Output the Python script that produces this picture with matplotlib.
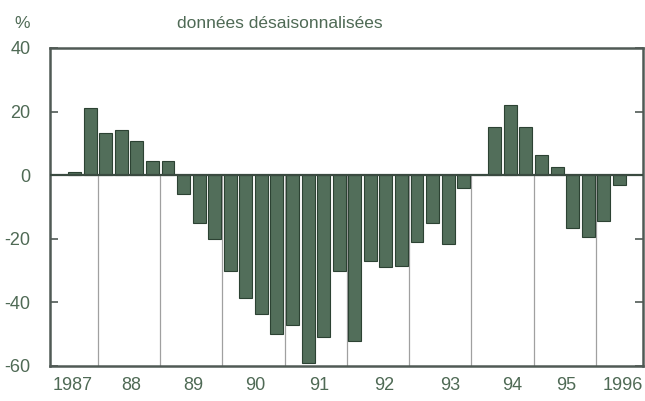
import matplotlib
matplotlib.use("Agg")
import matplotlib.pyplot as plt
import numpy as np

# Quarterly data, index 0 = 1987 Q1
quarters = np.arange(2, 38)
values = [1, 21,
          13.3, 14.3, 10.6, 4.5,
          4.5, -6, -15, -20,
          -30, -38.6, -43.8, -50,
          -47, -59, -51, -30,
          -52, -27, -29, -28.6,
          -21, -15, -21.5, -4,
          0, 15.3, 22, 15.3,
          6.3, 2.5, -16.5, -19.3,
          -14.3, -3.2]
year_labels = ["1987", "88", "89", "90", "91", "92", "93", "94", "95", "1996"]
y_ticks = [40, 20, 0, -20, -40, -60]

bar_color = "#526e5a"
edge_color = "#2c4233"
text_color = "#4f6a55"

plt.rcParams['font.family'] = ['Liberation Sans', 'DejaVu Sans']

fig = plt.figure(figsize=(6.45, 4.01), dpi=100)
ax = fig.add_axes([50/645, 35/401, 593/645, 318/401])

ax.bar(quarters, values, width=0.83, color=bar_color, edgecolor=edge_color,
       linewidth=0.8, zorder=3)

ax.set_xlim(0.42, 38.52)
ax.set_ylim(-60, 40)

# year separators (below zero only)
for b in np.arange(3.5, 36.5, 4):
    ax.plot([b, b], [0, -60], color="#a0a0a0", lw=0.9, zorder=1)
ax.axhline(0, color="#3a4a40", lw=1.6, zorder=4)

# year labels
label_pos = [1.85, 5.65, 9.6, 13.6, 17.7, 21.9, 26.1, 30.1, 33.6, 37.2]
ax.set_xticks(label_pos)
ax.set_xticklabels(year_labels)
ax.tick_params(axis='x', length=0, pad=8, labelsize=13, labelcolor=text_color)

ax.set_yticks(y_ticks)
ax.set_yticklabels([str(t) for t in y_ticks])
ax.tick_params(axis='y', direction='in', length=6, width=1.2, color="#505a55",
               right=True, labelsize=13, labelcolor=text_color, pad=14)

for s in ax.spines.values():
    s.set_color("#505a55")
    s.set_linewidth(1.8)

fig.text(22/645, 1 - 24/401, "%", ha='center', va='center', fontsize=12.5, color=text_color)
fig.text(280/645, 1 - 23/401, "données désaisonnalisées", ha='center', va='center',
         fontsize=12.5, color=text_color)

fig.savefig("out.png", dpi=100)
